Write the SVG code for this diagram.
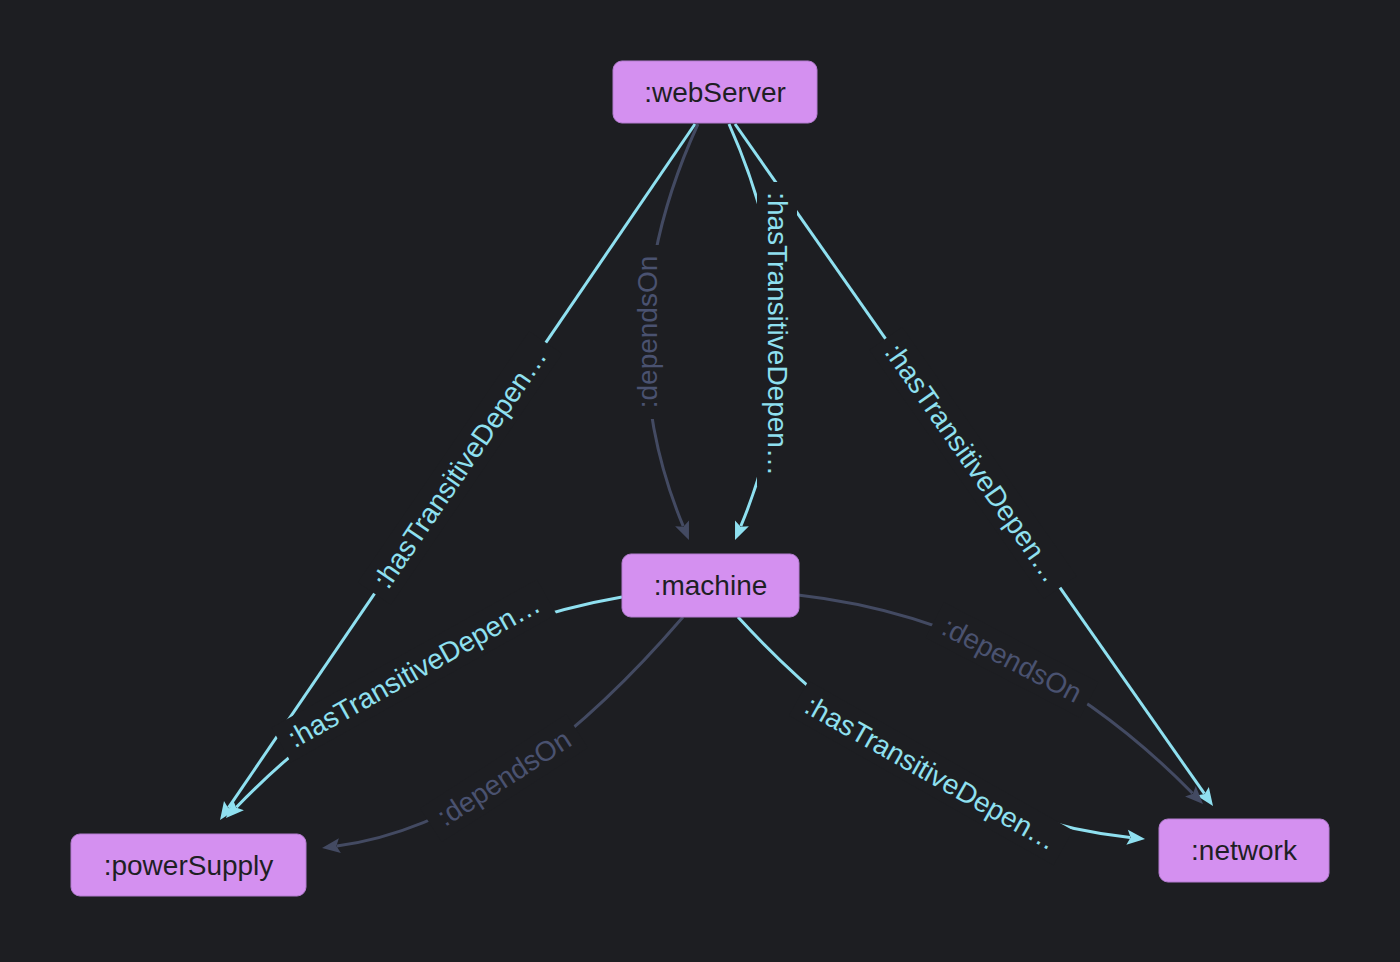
<svg xmlns="http://www.w3.org/2000/svg" width="1400" height="962" viewBox="0 0 1400 962">
<style>
.bg{fill:#1d1e22}
.node rect{fill:#d490f0;stroke:#b47dd0;stroke-width:1}
.node text{font-family:"Liberation Sans",Arial,Helvetica,sans-serif;font-size:28px;fill:#1e1f24;text-anchor:middle;dominant-baseline:central}
.ec{fill:none;stroke:#8fe0f0;stroke-width:3}
.eg{fill:none;stroke:#434a62;stroke-width:3}
.lbg{fill:#1d1e22}
.lt{font-family:"Liberation Sans",Arial,Helvetica,sans-serif;font-size:28px;text-anchor:middle;dominant-baseline:central}
.lc{fill:#8fe0f0}
.lg{fill:#4a5270}
</style>
<defs>
<marker id="ac" markerUnits="userSpaceOnUse" markerWidth="24" markerHeight="20" viewBox="-2 -10 24 20" refX="3" refY="0" orient="auto"><path d="M0,-7.5 L18,0 L0,7.5 L3.5,0 Z" fill="#8fe0f0"/></marker>
<marker id="ag" markerUnits="userSpaceOnUse" markerWidth="24" markerHeight="20" viewBox="-2 -10 24 20" refX="3" refY="0" orient="auto"><path d="M0,-7.5 L18,0 L0,7.5 L3.5,0 Z" fill="#434a62"/></marker>
</defs>
<rect class="bg" x="0" y="0" width="1400" height="962"/>
<g id="connectors">
<path id="e1" class="ec" d="M695,124 L228.5,807.6" marker-end="url(#ac)"/>
<path id="e2" class="eg" d="M698,124 Q602.5,332 683.2,526.2" marker-end="url(#ag)"/>
<path id="e3" class="ec" d="M729,124 Q822,332 740.8,526.2" marker-end="url(#ac)"/>
<path id="e4" class="ec" d="M735,124 L1204.4,793.7" marker-end="url(#ac)"/>
<path id="e5" class="ec" d="M622,597 Q404,634.5 236.4,807.2" marker-end="url(#ac)"/>
<path id="e6" class="eg" d="M683,617 Q505.5,823.5 336.9,846" marker-end="url(#ag)"/>
<path id="e7" class="eg" d="M798,595 Q1023.5,620.5 1192.5,793.3" marker-end="url(#ag)"/>
<path id="e8" class="ec" d="M738,617 Q920.5,816 1130.1,837.5" marker-end="url(#ac)"/>
<g transform="translate(460,468) rotate(-55.7)"><rect class="lbg" x="-152" y="-20" width="304" height="40"/><text class="lt lc">:hasTransitiveDepen…</text></g>
<g transform="translate(647,332) rotate(-90)"><rect class="lbg" x="-87" y="-20" width="174" height="40"/><text class="lt lg">:dependsOn</text></g>
<g transform="translate(777,334) rotate(90)"><rect class="lbg" x="-152" y="-20" width="304" height="40"/><text class="lt lc">:hasTransitiveDepen…</text></g>
<g transform="translate(973,463) rotate(55)"><rect class="lbg" x="-152" y="-20" width="304" height="40"/><text class="lt lc">:hasTransitiveDepen…</text></g>
<g transform="translate(414,671) rotate(-29.2)"><rect class="lbg" x="-152" y="-20" width="304" height="40"/><text class="lt lc">:hasTransitiveDepen…</text></g>
<g transform="translate(504,778) rotate(-32.8)"><rect class="lbg" x="-87" y="-20" width="174" height="40"/><text class="lt lg">:dependsOn</text></g>
<g transform="translate(1012,660) rotate(27.4)"><rect class="lbg" x="-87" y="-20" width="174" height="40"/><text class="lt lg">:dependsOn</text></g>
<g transform="translate(931,773) rotate(29.5)"><rect class="lbg" x="-152" y="-20" width="304" height="40"/><text class="lt lc">:hasTransitiveDepen…</text></g>
</g>
<g id="webServer" class="node"><rect x="613" y="61" width="204" height="62" rx="9"/><text x="715" y="92">:webServer</text></g>
<g id="machine" class="node"><rect x="622" y="554" width="177" height="63" rx="9"/><text x="710.5" y="585.5">:machine</text></g>
<g id="powerSupply" class="node"><rect x="71" y="834" width="235" height="62" rx="9"/><text x="188.5" y="865">:powerSupply</text></g>
<g id="network" class="node"><rect x="1159" y="819" width="170" height="63" rx="9"/><text x="1244" y="850.5">:network</text></g>
</svg>
